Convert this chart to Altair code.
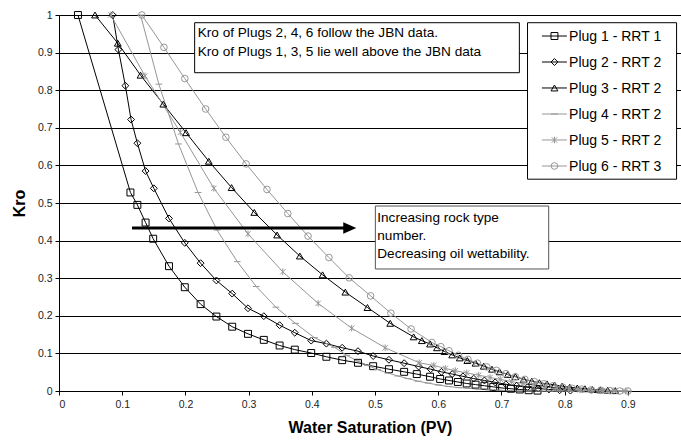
import altair as alt
import pandas as pd

# ---------------- data ----------------
SERIES = ["Plug 1 - RRT 1", "Plug 2 - RRT 2", "Plug 3 - RRT 2",
          "Plug 4 - RRT 2", "Plug 5 - RRT 2", "Plug 6 - RRT 3"]

P1_X = [0.030, 0.113, 0.124, 0.137, 0.149, 0.174, 0.199, 0.224, 0.249, 0.274, 0.299,
        0.324, 0.349, 0.373, 0.399, 0.423, 0.448, 0.473, 0.497, 0.522, 0.546, 0.566,
        0.587, 0.603, 0.617, 0.631, 0.645, 0.659, 0.673, 0.687, 0.701, 0.715, 0.729,
        0.743, 0.757]
P1_Y = [1.000, 0.528, 0.495, 0.448, 0.405, 0.332, 0.276, 0.231, 0.198, 0.171, 0.152,
        0.136, 0.121, 0.110, 0.101, 0.091, 0.082, 0.075, 0.066, 0.058, 0.051, 0.045,
        0.038, 0.032, 0.028, 0.024, 0.020, 0.017, 0.014, 0.011, 0.008, 0.006, 0.004,
        0.002, 0.001]

P2_X = [0.085, 0.094, 0.105, 0.114, 0.124, 0.137, 0.150, 0.174, 0.199, 0.224, 0.249,
        0.274, 0.299, 0.324, 0.349, 0.373, 0.399, 0.423, 0.448, 0.473, 0.497, 0.522,
        0.546, 0.569, 0.588, 0.605, 0.622, 0.639, 0.656, 0.673, 0.690, 0.707, 0.724,
        0.741, 0.758, 0.775, 0.792, 0.809]
P2_Y = [1.000, 0.908, 0.812, 0.722, 0.659, 0.585, 0.539, 0.459, 0.394, 0.340, 0.294,
        0.259, 0.220, 0.199, 0.175, 0.155, 0.134, 0.126, 0.115, 0.106, 0.093, 0.083,
        0.074, 0.065, 0.058, 0.051, 0.045, 0.039, 0.033, 0.028, 0.023, 0.018, 0.014,
        0.010, 0.007, 0.004, 0.002, 0.001]

P3_X = [0.057, 0.093, 0.129, 0.165, 0.201, 0.237, 0.273, 0.309, 0.345, 0.381, 0.417,
        0.453, 0.488, 0.524, 0.561, 0.574, 0.587, 0.598, 0.610, 0.622, 0.634, 0.646,
        0.659, 0.672, 0.685, 0.697, 0.710, 0.722, 0.735, 0.748, 0.760, 0.772, 0.784,
        0.796, 0.808, 0.820, 0.832, 0.844, 0.856, 0.868, 0.880]
P3_Y = [1.000, 0.925, 0.840, 0.763, 0.687, 0.611, 0.541, 0.475, 0.415, 0.359, 0.309,
        0.263, 0.222, 0.180, 0.144, 0.134, 0.125, 0.115, 0.105, 0.096, 0.088, 0.081,
        0.074, 0.066, 0.058, 0.051, 0.044, 0.038, 0.031, 0.026, 0.022, 0.019, 0.016,
        0.013, 0.010, 0.008, 0.006, 0.004, 0.003, 0.002, 0.001]

P4_X = [0.129, 0.158, 0.189, 0.220, 0.250, 0.282, 0.312, 0.343, 0.374, 0.404, 0.436,
        0.455, 0.472, 0.488, 0.504, 0.520, 0.536, 0.552, 0.568, 0.584, 0.600, 0.616,
        0.632, 0.648, 0.664, 0.680, 0.696, 0.712, 0.728, 0.744, 0.760, 0.776, 0.792,
        0.808, 0.824, 0.840, 0.856, 0.872, 0.888, 0.900]
P4_Y = [1.000, 0.816, 0.657, 0.528, 0.428, 0.344, 0.278, 0.223, 0.180, 0.142, 0.116,
        0.095, 0.080, 0.068, 0.057, 0.048, 0.040, 0.033, 0.026, 0.021, 0.016, 0.012,
        0.009, 0.007, 0.005, 0.003, 0.002, 0.001, 0.000, 0.000, 0.000, 0.000, 0.000,
        0.000, 0.000, 0.000, 0.000, 0.000, 0.000, 0.000]

P5_X = [0.082, 0.136, 0.192, 0.245, 0.299, 0.354, 0.410, 0.463, 0.516, 0.570, 0.593,
        0.611, 0.627, 0.645, 0.664, 0.682, 0.698, 0.716, 0.734, 0.752, 0.770, 0.788,
        0.806, 0.824, 0.842, 0.860, 0.878, 0.896]
P5_Y = [1.000, 0.838, 0.688, 0.539, 0.418, 0.317, 0.233, 0.167, 0.115, 0.075, 0.068,
        0.060, 0.054, 0.048, 0.042, 0.036, 0.031, 0.025, 0.020, 0.015, 0.011, 0.008,
        0.005, 0.003, 0.002, 0.001, 0.000, 0.000]

P6_X = [0.131, 0.166, 0.199, 0.232, 0.264, 0.296, 0.329, 0.362, 0.394, 0.427, 0.459,
        0.493, 0.525, 0.557, 0.590, 0.604, 0.617, 0.632, 0.647, 0.662, 0.677, 0.692,
        0.707, 0.722, 0.737, 0.752, 0.767, 0.782, 0.797, 0.812, 0.827, 0.842, 0.857,
        0.872, 0.887, 0.900]
P6_Y = [1.000, 0.914, 0.831, 0.750, 0.675, 0.604, 0.536, 0.472, 0.412, 0.355, 0.301,
        0.253, 0.207, 0.165, 0.129, 0.118, 0.107, 0.095, 0.084, 0.074, 0.064, 0.055,
        0.046, 0.038, 0.031, 0.025, 0.019, 0.014, 0.010, 0.007, 0.005, 0.003, 0.002,
        0.001, 0.000, 0.000]

XS = [P1_X, P2_X, P3_X, P4_X, P5_X, P6_X]
YS = [P1_Y, P2_Y, P3_Y, P4_Y, P5_Y, P6_Y]

X_TICKS = [0, 0.1, 0.2, 0.3, 0.4, 0.5, 0.6, 0.7, 0.8, 0.9]
Y_TICKS = [0, 0.1, 0.2, 0.3, 0.4, 0.5, 0.6, 0.7, 0.8, 0.9, 1]

# annotation texts / anchors (data coordinates)
NOTE1_LINES = ["Kro of Plugs 2, 4, 6 follow the JBN data.",
               "Kro of Plugs 1, 3, 5 lie well above the JBN data"]
NOTE1_BOX = [0.2146, 0.7283, 0.8465, 0.9795]  # x0, x1, y0, y1
NOTE1_X = 0.2195
NOTE1_Y = [0.9407, 0.8918]

NOTE2_LINES = ["Increasing rock type", "number.", "Decreasing oil wettability."]
NOTE2_BOX = [0.5005, 0.7747, 0.3245, 0.4920]
NOTE2_X = 0.5035
NOTE2_Y = [0.4503, 0.4016, 0.3529]

ARROW_X = [0.1155, 0.452]
ARROW_HEAD_X = 0.460
ARROW_Y = 0.4335

# legend box & entries (data coordinates)
LEG_BOX = [0.7412, 0.9770, 0.5633, 0.9795]
LEG_LINE_X = [0.7640, 0.8035]
LEG_MARK_X = 0.7838
LEG_TEXT_X = 0.8070
LEG_Y = [0.9441, 0.8750, 0.8059, 0.7367, 0.6676, 0.5984]

# ---------------- styles ----------------
FONT = "Liberation Sans"
BLACK = "#000000"
GRAY = "#969696"
COLORS = [BLACK, BLACK, BLACK, GRAY, GRAY, GRAY]
STAR = "M0,-1L0,1M-0.8,-0.8L0.8,0.8M-0.8,0.8L0.8,-0.8"
SHAPES = ["square", "diamond", "triangle-up", "stroke", STAR, "circle"]
SIZES = [48, 44, 75, 64, 72, 64]
WIDTHS = [1, 1, 1, 2.5, 1, 1]
ARROW_HEAD = "M-1,-0.9L1,0L-1,0.9Z"

rows = []
for s, xs, ys in zip(SERIES, XS, YS):
    for i, (a, b) in enumerate(zip(xs, ys)):
        rows.append({"series": s, "sw": a, "kro": b, "i": i})
df = pd.DataFrame(rows)

xscale = alt.Scale(domain=[0, 0.984], nice=False, zero=False)
yscale = alt.Scale(domain=[0, 1], nice=False)
cscale = alt.Scale(domain=SERIES, range=COLORS)
shscale = alt.Scale(domain=SERIES, range=SHAPES)
szscale = alt.Scale(domain=SERIES, range=SIZES)
swscale = alt.Scale(domain=SERIES, range=WIDTHS)

XT = "Water Saturation (PV)"
YT = "Kro"

xaxis = alt.Axis(values=X_TICKS, format="~g", grid=False, title=XT,
                 titlePadding=10, labelPadding=4)
yaxis = alt.Axis(values=Y_TICKS, format="~g", grid=True, gridColor=BLACK,
                 gridWidth=1, gridOpacity=1, title=YT, titleFontSize=16,
                 titlePadding=10, labelPadding=3)


def X(field="sw"):
    return alt.X(f"{field}:Q", scale=xscale, axis=xaxis, title=XT)


def Y(field="kro"):
    return alt.Y(f"{field}:Q", scale=yscale, axis=yaxis, title=YT)


lines = alt.Chart(df).mark_line(strokeWidth=1).encode(
    x=X(), y=Y(),
    color=alt.Color("series:N", scale=cscale, legend=None),
    detail="series:N",
)

points = alt.Chart(df).mark_point(filled=False, opacity=1).encode(
    x=X(), y=Y(),
    color=alt.Color("series:N", scale=cscale, legend=None),
    shape=alt.Shape("series:N", scale=shscale, legend=None),
    size=alt.Size("series:N", scale=szscale, legend=None),
    strokeWidth=alt.StrokeWidth("series:N", scale=swscale, legend=None),
)

# note boxes + legend box
boxes = pd.DataFrame({
    "sw": [NOTE1_BOX[0], NOTE2_BOX[0], LEG_BOX[0]],
    "sw2": [NOTE1_BOX[1], NOTE2_BOX[1], LEG_BOX[1]],
    "kro": [NOTE1_BOX[2], NOTE2_BOX[2], LEG_BOX[2]],
    "kro2": [NOTE1_BOX[3], NOTE2_BOX[3], LEG_BOX[3]],
    "stroke": [BLACK, "#555555", BLACK],
})
box_layer = alt.Chart(boxes).mark_rect(fill="white", strokeWidth=1).encode(
    x=X(), x2="sw2:Q", y=Y(), y2="kro2:Q",
    stroke=alt.Stroke("stroke:N", scale=None),
)

notes = pd.DataFrame({
    "sw": [NOTE1_X] * len(NOTE1_LINES) + [NOTE2_X] * len(NOTE2_LINES),
    "kro": NOTE1_Y + NOTE2_Y,
    "txt": NOTE1_LINES + NOTE2_LINES,
})
note_layer = alt.Chart(notes).mark_text(
    align="left", baseline="alphabetic", font=FONT, fontSize=13.6, color=BLACK
).encode(x=X(), y=Y(), text="txt:N")

arrow_df = pd.DataFrame({"sw": [ARROW_X[0]], "sw2": [ARROW_X[1]], "kro": [ARROW_Y]})
arrow_line = alt.Chart(arrow_df).mark_rule(strokeWidth=3, color=BLACK).encode(
    x=X(), x2="sw2:Q", y=Y(),
)
head_df = pd.DataFrame({"sw": [ARROW_HEAD_X], "kro": [ARROW_Y]})
arrow_head = alt.Chart(head_df).mark_point(
    shape=ARROW_HEAD, filled=True, size=169, color=BLACK, opacity=1, strokeWidth=0
).encode(x=X(), y=Y())

# legend entries
leg_df = pd.DataFrame({
    "series": SERIES, "kro": LEG_Y,
    "sw": [LEG_LINE_X[0]] * 6, "sw2": [LEG_LINE_X[1]] * 6,
    "swm": [LEG_MARK_X] * 6, "swt": [LEG_TEXT_X] * 6,
})
leg_rule = alt.Chart(leg_df).mark_rule(strokeWidth=1).encode(
    x=X(), x2="sw2:Q", y=Y(),
    color=alt.Color("series:N", scale=cscale, legend=None),
)
leg_pt = alt.Chart(leg_df).mark_point(filled=False, opacity=1).encode(
    x=X("swm"), y=Y(),
    color=alt.Color("series:N", scale=cscale, legend=None),
    shape=alt.Shape("series:N", scale=shscale, legend=None),
    size=alt.Size("series:N", scale=szscale, legend=None),
    strokeWidth=alt.StrokeWidth("series:N", scale=swscale, legend=None),
)
leg_txt = alt.Chart(leg_df).mark_text(
    align="left", baseline="middle", font=FONT, fontSize=14, color=BLACK, dy=1
).encode(x=X("swt"), y=Y(), text="series:N")

chart = alt.layer(
    lines, points, arrow_line, arrow_head, box_layer, note_layer,
    leg_rule, leg_pt, leg_txt,
).properties(
    width=622, height=376,
    padding={"left": 59, "top": 15, "right": 0, "bottom": 50},
    autosize=alt.AutoSizeParams(type="none"),
    background="white",
).configure_view(stroke=None).configure_axis(
    labelFont=FONT, labelFontSize=10.5, labelColor="#222222",
    domainColor=BLACK, domainWidth=1, tickColor=BLACK, tickSize=4, tickWidth=1,
    titleFont=FONT, titleFontSize=16, titleFontWeight="bold", titleColor=BLACK,
)

chart.save("out.html", embed_options={"renderer": "svg", "actions": False})
